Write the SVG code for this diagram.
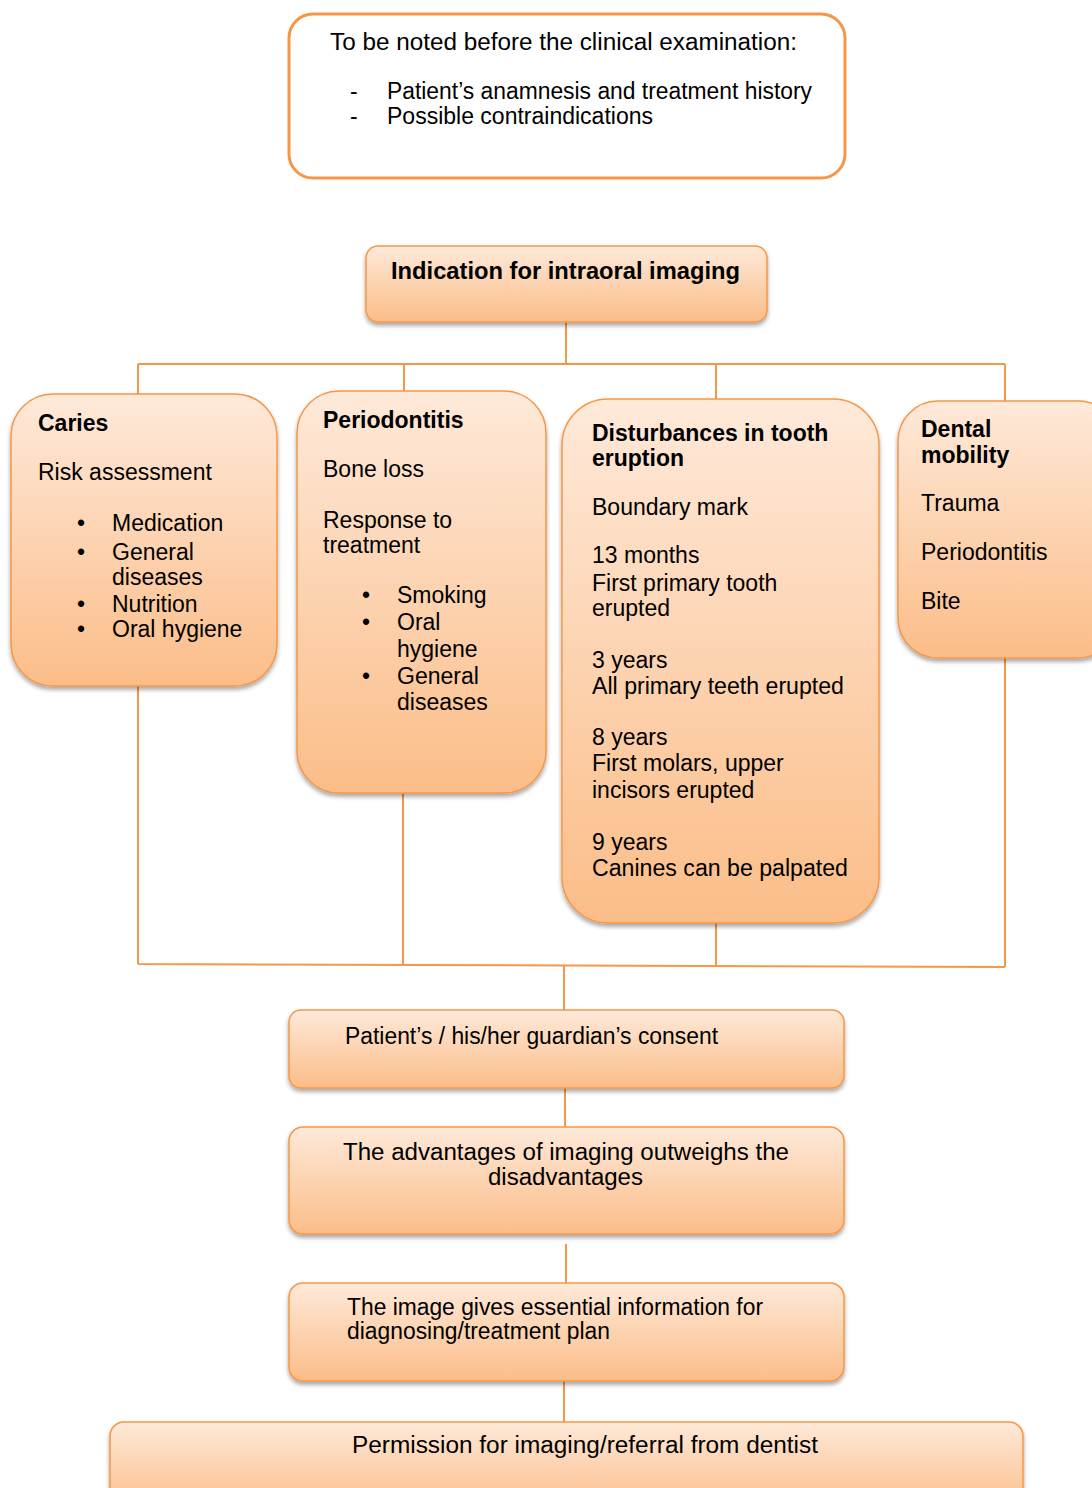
<svg xmlns="http://www.w3.org/2000/svg" width="1092" height="1488" viewBox="0 0 1092 1488">
<defs>
<linearGradient id="g" x1="0" y1="0" x2="0" y2="1">
<stop offset="0" stop-color="#FEE9D9"/>
<stop offset="1" stop-color="#FBBD88"/>
</linearGradient>
<filter id="sh" x="-10%" y="-10%" width="120%" height="130%">
<feDropShadow dx="0" dy="3" stdDeviation="2" flood-color="#000" flood-opacity="0.35"/>
</filter>
<style>
.box{fill:url(#g);stroke:#F79646;stroke-width:1.5;filter:url(#sh)}
.t{font-family:"Liberation Sans",Arial,sans-serif;font-size:23px;fill:#000}
.b{font-weight:bold}
.c{fill:none;stroke:#F79646;stroke-width:2}
</style>
</defs>
<rect width="1092" height="1488" fill="#fff"/>
<g id="connectors">
<path class="c" d="M566 322V364M138 364H1005M138 364V394M404 364V391M716 364V399M1005 364V401"/>
<path class="c" d="M138 686V964M403 793V965M716 923V966M1005 658V967M138 964L1005 967M564 965V1010"/>
<path class="c" d="M565 1088V1127M566 1244V1283M564 1381V1422"/>
</g>
<g id="note">
<rect x="289" y="14" width="556" height="164" rx="24" fill="#fff" stroke="#F79646" stroke-width="3"/>
<text class="t" x="330" y="50" textLength="467" lengthAdjust="spacingAndGlyphs">To be noted before the clinical examination:</text>
<text class="t" x="350" y="99">-</text>
<text class="t" x="387" y="99" textLength="425" lengthAdjust="spacingAndGlyphs">Patient’s anamnesis and treatment history</text>
<text class="t" x="350" y="124">-</text>
<text class="t" x="387" y="124" textLength="266" lengthAdjust="spacingAndGlyphs">Possible contraindications</text>
</g>
<g id="indication">
<rect class="box" x="366" y="246" width="401" height="76" rx="12"/>
<text class="t b" x="391" y="279" textLength="349" lengthAdjust="spacingAndGlyphs">Indication for intraoral imaging</text>
</g>
<g id="caries">
<rect class="box" x="11" y="394" width="266" height="292" rx="42"/>
<text class="t b" x="38" y="431">Caries</text>
<text class="t" x="38" y="480">Risk assessment</text>
<text class="t" x="77" y="531">•</text><text class="t" x="112" y="531">Medication</text>
<text class="t" x="77" y="560">•</text><text class="t" x="112" y="560">General</text>
<text class="t" x="112" y="585">diseases</text>
<text class="t" x="77" y="612">•</text><text class="t" x="112" y="612">Nutrition</text>
<text class="t" x="77" y="637">•</text><text class="t" x="112" y="637">Oral hygiene</text>
</g>
<g id="periodontitis">
<rect class="box" x="297" y="391" width="249" height="402" rx="42"/>
<text class="t b" x="323" y="428">Periodontitis</text>
<text class="t" x="323" y="477">Bone loss</text>
<text class="t" x="323" y="528">Response to</text>
<text class="t" x="323" y="553">treatment</text>
<text class="t" x="362" y="603">•</text><text class="t" x="397" y="603">Smoking</text>
<text class="t" x="362" y="630">•</text><text class="t" x="397" y="630">Oral</text>
<text class="t" x="397" y="657">hygiene</text>
<text class="t" x="362" y="684">•</text><text class="t" x="397" y="684">General</text>
<text class="t" x="397" y="710">diseases</text>
</g>
<g id="eruption">
<rect class="box" x="562" y="399" width="317" height="524" rx="46"/>
<text class="t b" x="592" y="441">Disturbances in tooth</text>
<text class="t b" x="592" y="466">eruption</text>
<text class="t" x="592" y="515">Boundary mark</text>
<text class="t" x="592" y="563">13 months</text>
<text class="t" x="592" y="591">First primary tooth</text>
<text class="t" x="592" y="616">erupted</text>
<text class="t" x="592" y="668">3 years</text>
<text class="t" x="592" y="694" textLength="252" lengthAdjust="spacingAndGlyphs">All primary teeth erupted</text>
<text class="t" x="592" y="745">8 years</text>
<text class="t" x="592" y="771">First molars, upper</text>
<text class="t" x="592" y="798">incisors erupted</text>
<text class="t" x="592" y="850">9 years</text>
<text class="t" x="592" y="876" textLength="256" lengthAdjust="spacingAndGlyphs">Canines can be palpated</text>
</g>
<g id="mobility">
<rect class="box" x="898" y="401" width="220" height="257" rx="40"/>
<text class="t b" x="921" y="437">Dental</text>
<text class="t b" x="921" y="463">mobility</text>
<text class="t" x="921" y="511">Trauma</text>
<text class="t" x="921" y="560">Periodontitis</text>
<text class="t" x="921" y="609">Bite</text>
</g>
<g id="consent">
<rect class="box" x="289" y="1010" width="555" height="78" rx="12"/>
<text class="t" x="345" y="1044" textLength="373" lengthAdjust="spacingAndGlyphs">Patient’s / his/her guardian’s consent</text>
</g>
<g id="advantages">
<rect class="box" x="289" y="1127" width="555" height="107" rx="14"/>
<text class="t" x="343" y="1160" textLength="446" lengthAdjust="spacingAndGlyphs">The advantages of imaging outweighs the</text>
<text class="t" x="488" y="1185" textLength="155" lengthAdjust="spacingAndGlyphs">disadvantages</text>
</g>
<g id="image">
<rect class="box" x="289" y="1283" width="555" height="98" rx="14"/>
<text class="t" x="347" y="1315" textLength="416" lengthAdjust="spacingAndGlyphs">The image gives essential information for</text>
<text class="t" x="347" y="1339" textLength="263" lengthAdjust="spacingAndGlyphs">diagnosing/treatment plan</text>
</g>
<g id="permission">
<rect class="box" x="110" y="1422" width="913" height="90" rx="14"/>
<text class="t" x="352" y="1453" textLength="466" lengthAdjust="spacingAndGlyphs">Permission for imaging/referral from dentist</text>
</g>
</svg>
